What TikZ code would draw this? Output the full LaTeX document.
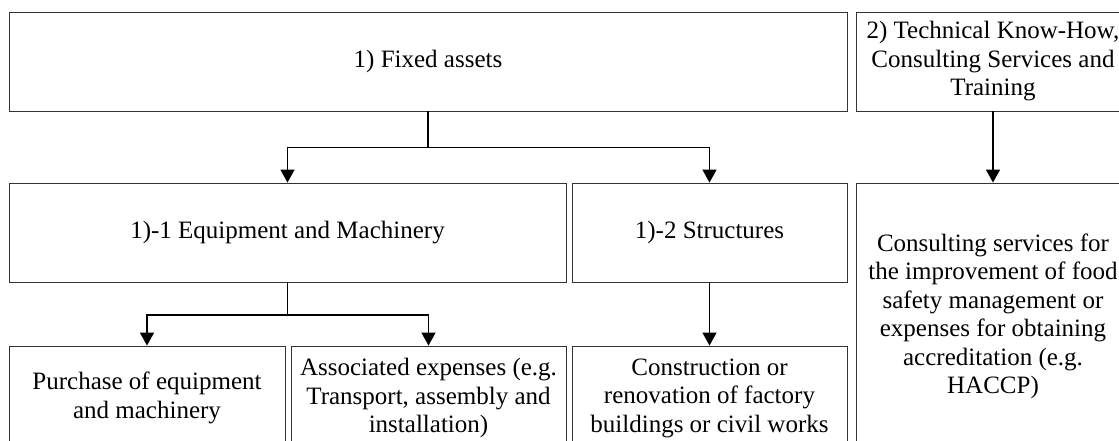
\documentclass[tikz,border=0pt]{standalone}
\usepackage{fontspec}
\setmainfont{Liberation Serif}
\usepackage{xcolor}
\usetikzlibrary{arrows.meta,calc,positioning}
\tikzset{
  box/.style={rectangle, draw=black!80, line width=0.9pt, align=center, inner sep=2pt,
    font=\fontsize{25}{28.5}\selectfont},
  link/.style={draw=black, line width=1.5pt},
  arr/.style={link, -{Triangle[length=13pt,width=14pt]}},
  every picture/.style={line cap=butt, line join=miter}
}

\begin{document}
\begin{tikzpicture}[x=1pt,y=-1pt]
  \useasboundingbox (0,0) rectangle (1119,440);
  \clip (0,0) rectangle (1119,440);

  % top row
  \node[box, minimum width=838pt, minimum height=99pt] (fixed) at (428,61.5) {1) Fixed assets};
  \node[box, minimum width=274pt, minimum height=99pt] (tech) at (993,61.5)
    {2) Technical Know-How,\\Consulting Services and\\Training};

  % middle row
  \node[box, minimum width=557pt, minimum height=99pt] (equip) at (287.5,232.5) {1)-1 Equipment and Machinery};
  \node[box, minimum width=275pt, minimum height=99pt] (struct) at (709.5,232.5) {1)-2 Structures};
  \node[box, minimum width=274pt, minimum height=267pt] (consult) at (993,316.5)
    {Consulting services for\\the improvement of food\\safety management or\\expenses for obtaining\\accreditation (e.g.\\HACCP)};

  % bottom row
  \node[box, minimum width=276pt, minimum height=104pt] (purch) at (147,398) {Purchase of equipment\\and machinery};
  \node[box, minimum width=275pt, minimum height=104pt] (assoc) at (428.5,398)
    {Associated expenses (e.g.\\Transport, assembly and\\installation)};
  \node[box, minimum width=275pt, minimum height=104pt] (constr) at (709.5,398)
    {Construction or\\renovation of factory\\buildings or civil works};

  % connectors
  \draw[link] (fixed.south) -- ++(0,36) coordinate (fk1);
  \draw[arr] (fk1) -| (equip.north);
  \draw[arr] (fk1) -| (struct.north);
  \draw[link] (equip.south) -- ++(0,32.5) coordinate (fk2);
  \draw[arr] (fk2) -| (purch.north);
  \draw[arr] (fk2) -| (assoc.north);
  \draw[arr] (struct.south) -- (constr.north);
  \draw[arr] (tech.south) -- (consult.north);
\end{tikzpicture}
\end{document}
